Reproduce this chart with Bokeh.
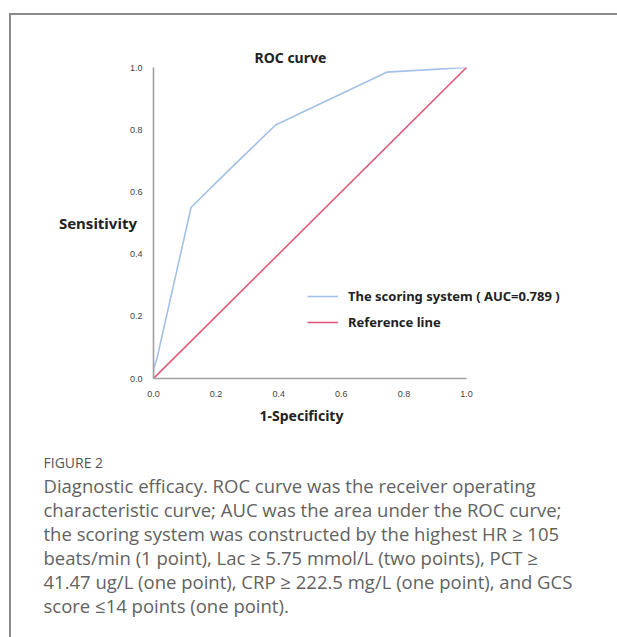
from bokeh.plotting import figure
from bokeh.layouts import column
from bokeh.models import (Range1d, FixedTicker, NumeralTickFormatter, Legend,
                          LegendItem, Title)
from bokeh.embed import file_html
from bokeh.resources import INLINE

# ---- data ----
fpr = [0.0, 0.0, 0.01, 0.12, 0.20, 0.39, 0.745, 1.0]
tpr = [0.0, 0.03, 0.06, 0.55, 0.63, 0.815, 0.985, 1.0]
ref_x = [0.0, 1.0]
ref_y = [0.0, 1.0]
ticks = [0.0, 0.2, 0.4, 0.6, 0.8, 1.0]
series_names = ["The scoring system ( AUC=0.789 )", "Reference line"]
title_text = "ROC curve"
x_title = "1-Specificity"
y_title = "Sensitivity"
fig_label = "FIGURE 2"
caption_lines = [
    "Diagnostic efficacy. ROC curve was the receiver operating",
    "characteristic curve; AUC was the area under the ROC curve;",
    "the scoring system was constructed by the highest HR \u2265 105",
    "beats/min (1 point), Lac \u2265 5.75 mmol/L (two points), PCT \u2265",
    "41.47 ug/L (one point), CRP \u2265 222.5 mg/L (one point), and GCS",
    "score \u226414 points (one point).",
]

CHART_FONT = "Noto Sans"
CAP_FONT = "Open Sans"
W = 606
H = 622
frame_left, frame_top, frame_right_margin = 142, 52, 46
frame_bottom_margin = 259
unit_px = 313.0
x_end = (W - frame_left - frame_right_margin) / unit_px

p = figure(width=W, height=H, output_backend="svg", toolbar_location=None,
           x_range=Range1d(0, x_end), y_range=Range1d(0, 1),
           min_border_left=frame_left, min_border_right=frame_right_margin,
           min_border_top=frame_top, min_border_bottom=frame_bottom_margin)
p.outline_line_color = None
p.grid.visible = False
p.background_fill_color = "white"
p.border_fill_color = "white"

p.title.text = title_text
p.title.align = "left"
p.title.offset = 101
p.title.standoff = 2
p.title.text_font = CHART_FONT
p.title.text_font_size = "14px"
p.title.text_font_style = "bold"
p.title.text_color = "#222222"

for ax in (p.xaxis, p.yaxis):
    ax.ticker = FixedTicker(ticks=ticks)
    ax.formatter = NumeralTickFormatter(format="0.0")
    ax.bounds = (0, 1)
    ax.axis_line_color = "#a0a0a0"
    ax.axis_line_width = 1.6
    ax.major_tick_line_color = None
    ax.minor_tick_line_color = None
    ax.major_label_text_font = "Liberation Sans"
    ax.major_label_text_font_size = "9px"
    ax.major_label_text_color = "#444444"
p.xaxis.major_label_standoff = 6
p.yaxis.major_label_standoff = 5

p.yaxis.axis_label = y_title
p.yaxis.axis_label_orientation = "horizontal"
p.yaxis.axis_label_standoff = -10
p.yaxis.axis_label_text_font = CHART_FONT
p.yaxis.axis_label_text_font_size = "15px"
p.yaxis.axis_label_text_font_style = "bold"
p.yaxis.axis_label_text_color = "#222222"

p.add_layout(Title(text=x_title, align="left", offset=106, standoff=8,
                   text_font=CHART_FONT, text_font_size="14px",
                   text_font_style="bold", text_color="#222222"), "below")

r_roc = p.line(fpr, tpr, line_color="#a3c1e8", line_width=1.6)
r_ref = p.line(ref_x, ref_y, line_color="#e05a7c", line_width=1.6)

legend = Legend(items=[LegendItem(label=series_names[0], renderers=[r_roc]),
                       LegendItem(label=series_names[1], renderers=[r_ref])],
                location=(154, 47), border_line_color=None,
                background_fill_alpha=0, padding=0, margin=0,
                glyph_width=31, glyph_height=16, label_height=16, spacing=8,
                label_standoff=10, label_text_font=CHART_FONT,
                label_text_font_size="13px", label_text_font_style="bold",
                label_text_color="#222222")
p.add_layout(legend, "center")

# ---- caption (stacked below the axis title) ----
cap_offset = 43 - (frame_left + 11)
# blank spacer between the chart and the caption
p.add_layout(Title(text=" ", align="left", offset=cap_offset, standoff=18.3,
                   text_font=CAP_FONT, text_font_size="1px",
                   text_font_style="normal", text_color="#ffffff"), "below")
p.add_layout(Title(text=fig_label, align="left", offset=cap_offset, standoff=0.6,
                   text_font=CAP_FONT, text_font_size="14px",
                   text_font_style="normal", text_color="#555555"), "below")
for i, line in enumerate(caption_lines):
    p.add_layout(Title(text=line, align="left", offset=cap_offset,
                       standoff=-2.6,
                       text_font=CAP_FONT, text_font_size="18.5px",
                       text_font_style="normal", text_color="#626262"), "below")

root = column(p, spacing=0,
              styles={"border-left": "2px solid #8a8a8a",
                      "border-top": "2px solid #8a8a8a",
                      "margin-left": "9px", "margin-top": "13px"})

open("out.html", "w").write(file_html(root, INLINE))
